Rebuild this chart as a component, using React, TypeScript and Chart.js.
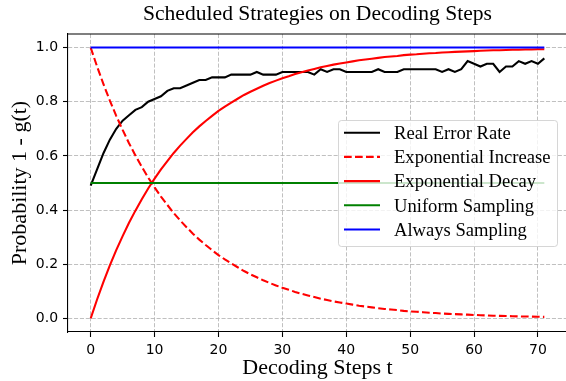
import React, { useEffect, useRef } from "react";
import { Chart, registerables } from "chart.js";

Chart.register(...registerables);

// ---------- data ----------
const steps: number[] = Array.from({ length: 72 }, (_, i) => i);

const realErrorRate: number[] = [
  0.49, 0.55, 0.61, 0.66, 0.70, 0.73, 0.75, 0.77, 0.78, 0.80,
  0.81, 0.82, 0.84, 0.85, 0.85, 0.86, 0.87, 0.88, 0.88, 0.89,
  0.89, 0.89, 0.90, 0.90, 0.90, 0.90, 0.91, 0.90, 0.90, 0.90,
  0.91, 0.91, 0.91, 0.91, 0.91, 0.90, 0.92, 0.91, 0.92, 0.92,
  0.91, 0.91, 0.91, 0.91, 0.91, 0.92, 0.91, 0.91, 0.91, 0.92,
  0.92, 0.92, 0.92, 0.92, 0.92, 0.91, 0.92, 0.91, 0.92, 0.95,
  0.94, 0.93, 0.94, 0.94, 0.91, 0.93, 0.93, 0.95, 0.94, 0.95,
  0.94, 0.96,
];

const exponentialIncrease: number[] = [
  1.0, 0.93, 0.865, 0.804, 0.748, 0.696, 0.647, 0.602, 0.56, 0.52,
  0.484, 0.45, 0.419, 0.389, 0.362, 0.337, 0.313, 0.291, 0.271, 0.252,
  0.234, 0.218, 0.203, 0.189, 0.175, 0.163, 0.152, 0.141, 0.131, 0.122,
  0.113, 0.106, 0.098, 0.091, 0.085, 0.079, 0.073, 0.068, 0.063, 0.059,
  0.055, 0.051, 0.047, 0.044, 0.041, 0.038, 0.035, 0.033, 0.031, 0.028,
  0.026, 0.025, 0.023, 0.021, 0.02, 0.018, 0.017, 0.016, 0.015, 0.014,
  0.013, 0.012, 0.011, 0.01, 0.0096, 0.0089, 0.0083, 0.0077, 0.0072, 0.0067,
  0.0062, 0.0058,
];

const exponentialDecay: number[] = [
  0.0, 0.07, 0.135, 0.196, 0.252, 0.304, 0.353, 0.398, 0.44, 0.48,
  0.516, 0.55, 0.581, 0.611, 0.638, 0.663, 0.687, 0.709, 0.729, 0.748,
  0.766, 0.782, 0.797, 0.811, 0.825, 0.837, 0.848, 0.859, 0.869, 0.878,
  0.887, 0.894, 0.902, 0.909, 0.915, 0.921, 0.927, 0.932, 0.937, 0.941,
  0.945, 0.949, 0.953, 0.956, 0.959, 0.962, 0.965, 0.967, 0.969, 0.972,
  0.974, 0.975, 0.977, 0.979, 0.98, 0.982, 0.983, 0.984, 0.985, 0.986,
  0.987, 0.988, 0.989, 0.99, 0.99, 0.991, 0.992, 0.992, 0.993, 0.993,
  0.994, 0.994,
];

const UNIFORM_LEVEL = 0.5;
const ALWAYS_LEVEL = 1.0;
const uniformSampling: number[] = steps.map(() => UNIFORM_LEVEL);
const alwaysSampling: number[] = steps.map(() => ALWAYS_LEVEL);

const xTicks: number[] = [0, 10, 20, 30, 40, 50, 60, 70];
const yTicks: number[] = [0.0, 0.2, 0.4, 0.6, 0.8, 1.0];

const seriesLabels: string[] = [
  "Real Error Rate",
  "Exponential Increase",
  "Exponential Decay",
  "Uniform Sampling",
  "Always Sampling",
];

const chartTitle = "Scheduled Strategies on Decoding Steps";
const xAxisTitle = "Decoding Steps t";
const yAxisTitle = "Probability 1 - g(t)";

// ---------- styles ----------
const SERIF = "'Liberation Serif', 'Times New Roman', serif";
const SANS = "'DejaVu Sans', sans-serif";
const LINE_W = 2.08;

const toXY = (arr: number[]) => arr.map((y, i) => ({ x: steps[i], y }));

const frameAndLegend = {
  id: "frameAndLegend",
  afterDatasetsDraw(chart: any) {
    const { ctx, chartArea } = chart;
    ctx.save();
    // top & right spines
    ctx.strokeStyle = "#000";
    ctx.lineWidth = 1.1;
    ctx.beginPath();
    ctx.moveTo(chartArea.left, chartArea.top);
    ctx.lineTo(chartArea.right, chartArea.top);
    ctx.lineTo(chartArea.right, chartArea.bottom);
    ctx.stroke();

    // legend box
    const bx = 338.5;
    const by = 120.5;
    const bw = 219;
    const bh = 126;
    ctx.beginPath();
    if (ctx.roundRect) ctx.roundRect(bx, by, bw, bh, 3);
    else ctx.rect(bx, by, bw, bh);
    ctx.fillStyle = "rgba(255,255,255,0.8)";
    ctx.fill();
    ctx.strokeStyle = "rgba(204,204,204,0.8)";
    ctx.lineWidth = 1;
    ctx.stroke();

    const fontSize = 18.6;
    ctx.font = `${fontSize}px ${SERIF}`;
    ctx.textAlign = "left";
    ctx.textBaseline = "alphabetic";
    chart.data.datasets.forEach((ds: any, i: number) => {
      const y = 132.7 + i * 24.2;
      ctx.beginPath();
      ctx.setLineDash(ds.borderDash || []);
      ctx.strokeStyle = ds.borderColor;
      ctx.lineWidth = ds.borderWidth;
      ctx.moveTo(344, y);
      ctx.lineTo(380, y);
      ctx.stroke();
      ctx.setLineDash([]);
      ctx.fillStyle = "#000";
      ctx.fillText(ds.label, 394, y + fontSize * 0.34);
    });
    ctx.restore();
  },
};

export default function App() {
  const canvasRef = useRef<HTMLCanvasElement | null>(null);

  useEffect(() => {
    const canvas = canvasRef.current;
    if (!canvas) return;
    const chart = new Chart(canvas, {
      type: "line",
      data: {
        datasets: [
          {
            label: seriesLabels[0],
            data: toXY(realErrorRate),
            borderColor: "#000000",
            borderWidth: LINE_W,
            pointRadius: 0,
            order: 5,
          },
          {
            label: seriesLabels[1],
            data: toXY(exponentialIncrease),
            borderColor: "#ff0000",
            borderWidth: LINE_W,
            borderDash: [7.7, 3.3],
            pointRadius: 0,
            order: 4,
          },
          {
            label: seriesLabels[2],
            data: toXY(exponentialDecay),
            borderColor: "#ff0000",
            borderWidth: LINE_W,
            pointRadius: 0,
            order: 3,
          },
          {
            label: seriesLabels[3],
            data: toXY(uniformSampling),
            borderColor: "#008000",
            borderWidth: LINE_W,
            pointRadius: 0,
            order: 2,
          },
          {
            label: seriesLabels[4],
            data: toXY(alwaysSampling),
            borderColor: "#0000ff",
            borderWidth: LINE_W,
            pointRadius: 0,
            order: 1,
          },
        ],
      },
      options: {
        animation: false,
        responsive: false,
        devicePixelRatio: 1,
        layout: { padding: { top: 0, left: 0, right: 0, bottom: 0 } },
        plugins: {
          legend: { display: false },
          tooltip: { enabled: false },
          title: {
            display: true,
            fullSize: false,
            text: chartTitle,
            color: "#000",
            font: { family: SERIF, size: 21.6, weight: "normal", lineHeight: 1.2 },
            padding: { top: 1, bottom: 7.1 },
          },
        },
        scales: {
          x: {
            type: "linear",
            min: -3.55,
            max: 74.55,
            afterBuildTicks: (scale: any) => {
              scale.ticks = xTicks.map((v) => ({ value: v }));
            },
            afterFit: (scale: any) => {
              scale.height = 49;
            },
            ticks: {
              color: "#000",
              font: { family: SANS, size: 14 },
              padding: 4.9,
              maxRotation: 0,
              autoSkip: false,
              callback: (v: any) => String(v),
            },
            grid: {
              color: "#b0b0b0",
              lineWidth: 0.8,
              drawTicks: true,
              tickLength: 5,
              tickColor: "#000",
              tickWidth: 1.1,
            },
            border: { display: true, color: "#000", width: 1.1, dash: [4.1, 1.8] },
            title: {
              display: true,
              text: xAxisTitle,
              color: "#000",
              font: { family: SERIF, size: 22, weight: "normal", lineHeight: 1.2 },
              padding: { top: 0, bottom: 0 },
            },
          },
          y: {
            type: "linear",
            min: -0.05,
            max: 1.05,
            afterBuildTicks: (scale: any) => {
              scale.ticks = yTicks.map((v) => ({ value: v }));
            },
            afterFit: (scale: any) => {
              scale.width = 68;
            },
            ticks: {
              color: "#000",
              font: { family: SANS, size: 14 },
              padding: 4.9,
              autoSkip: false,
              callback: (v: any) => Number(v).toFixed(1),
            },
            grid: {
              color: "#b0b0b0",
              lineWidth: 0.8,
              drawTicks: true,
              tickLength: 5,
              tickColor: "#000",
              tickWidth: 1.1,
            },
            border: { display: true, color: "#000", width: 1.1, dash: [4.1, 1.8] },
            title: {
              display: true,
              text: yAxisTitle,
              color: "#000",
              font: { family: SERIF, size: 22, weight: "normal", lineHeight: 1.2 },
              padding: { top: 7, bottom: 0 },
            },
          },
        },
      },
      plugins: [frameAndLegend],
    } as any);
    return () => chart.destroy();
  }, []);

  return (
    <div
      style={{
        position: "fixed",
        left: 0,
        top: 0,
        width: 566,
        height: 381,
        overflow: "hidden",
        background: "#fff",
      }}
    >
      <canvas ref={canvasRef} width={567} height={381} style={{ display: "block" }} />
    </div>
  );
}
